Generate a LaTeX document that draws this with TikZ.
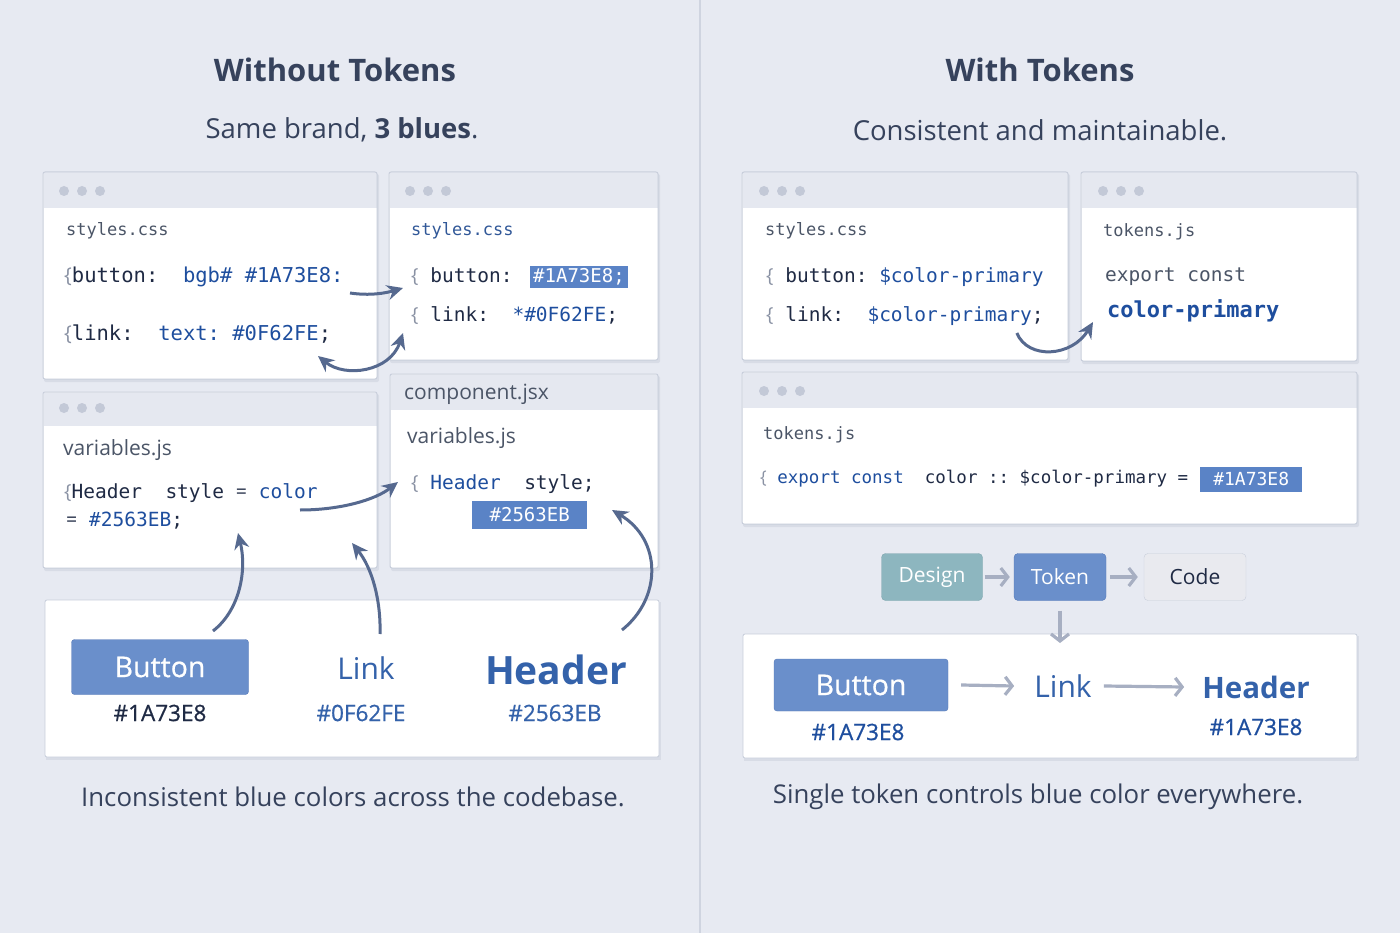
\documentclass[tikz,border=0pt]{standalone}
\usepackage{fontspec}
\setmainfont{Open Sans}
\setmonofont{DejaVu Sans Mono}
\newfontfamily\medsans[FakeBold=0.7]{Open Sans}
\usetikzlibrary{arrows.meta}

\definecolor{bgc}{HTML}{E7EAF2}
\definecolor{divc}{HTML}{CFD4E0}
\definecolor{winline}{HTML}{C8CEDB}
\definecolor{winhead}{HTML}{E5E8F0}
\definecolor{dotc}{HTML}{C3C9D7}
\definecolor{shadowc}{HTML}{D8DCE6}
\definecolor{txtdark}{HTML}{36425C}
\definecolor{txtgray}{HTML}{4B5567}
\definecolor{codedark}{HTML}{1F2A44}
\definecolor{codeblue}{HTML}{1E4E9E}
\definecolor{linkblue}{HTML}{3462AA}
\definecolor{bracec}{HTML}{8A92A4}
\definecolor{hlfill}{HTML}{5A83C6}
\definecolor{btnfill}{HTML}{6A8FCB}
\definecolor{btnline}{HTML}{5679B8}
\definecolor{arrdark}{HTML}{56698F}
\definecolor{arrgray}{HTML}{A7AFC2}
\definecolor{tealc}{HTML}{8DB6BF}
\definecolor{tealline}{HTML}{7FA6AF}
\definecolor{codebox}{HTML}{E9EAEF}

% window frame: x1 y1 x2 y2 header-bottom
\newcommand{\codewin}[5]{%
  \fill[shadowc,rounded corners=2pt] (#1+1,#2+2) rectangle (#3+2,#4+3);
  \fill[white,rounded corners=2pt] (#1,#2) rectangle (#3,#4);
  \fill[winhead] (#1+0.5,#2+0.5) rectangle (#3-0.5,#5);
  \draw[winline,line width=1pt,rounded corners=2pt] (#1,#2) rectangle (#3,#4);
}
% three dots in a header
\newcommand{\windots}[2]{%
  \foreach \k in {0,1,2} \fill[dotc] (#1+18*\k,#2) circle (5pt);
}

\begin{document}
\begin{tikzpicture}[x=1pt,y=-1pt,
  ttl/.style={inner sep=0pt,text=txtdark,font=\bfseries\fontsize{31}{36}\selectfont},
  sub/.style={inner sep=0pt,text=txtdark,font=\fontsize{27.5}{32}\selectfont},
  capline/.style={inner sep=0pt,text=txtdark,font=\fontsize{25.8}{30}\selectfont},
  fname/.style={anchor=west,inner sep=0pt,text=txtgray,font=\ttfamily\fontsize{17}{20}\selectfont},
  fsans/.style={anchor=west,inner sep=0pt,text=txtgray,font=\fontsize{21}{24}\selectfont},
  code/.style={anchor=west,inner sep=0pt,text=codedark,font=\ttfamily\fontsize{19.5}{23}\selectfont},
  hl/.style={anchor=west,fill=hlfill,text=white,inner sep=3pt,font=\ttfamily\fontsize{19}{22}\selectfont},
  btn/.style={fill=btnfill,draw=btnline,rounded corners=3pt,text=white,font=\medsans\fontsize{28.5}{32}\selectfont},
  hexl/.style={inner sep=0pt,font=\medsans\fontsize{22.5}{26}\selectfont},
  flow/.style={rounded corners=4pt,minimum height=47pt,inner sep=0pt,font=\fontsize{21}{24}\selectfont,text=white},
  darr/.style={draw=arrdark,line width=3pt,-{Stealth[length=16pt,width=15pt]}},
  garr/.style={draw=arrgray,line width=3.2pt,-{Straight Barb[length=7pt,width=18pt]}}]
  \useasboundingbox (0,0) rectangle (1400,933);
  \fill[bgc] (0,0) rectangle (1400,933);
  \draw[divc,line width=1.2pt] (700,0) -- (700,933);

  % titles
  \node[ttl] (tL) at (335,70) {Without Tokens};
  \node[sub] (sL) at (342,130) {Same brand, \textbf{3 blues}.};
  \node[ttl] (tR) at (1040,70) {With Tokens};
  \node[sub] (sR) at (1040,130) {Consistent and maintainable.};

  % ---- left side windows
  \codewin{43}{172}{377}{379}{208}
  \windots{64}{191}
  \node[fname] (fA) at (66,231) {styles.css};
  \node[code,font=\ttfamily\fontsize{20.5}{24}\selectfont] (cA1) at (64,277) {{\rmfamily\color{bracec}\{}button:\ \ {\color{codeblue}bgb\# \#1A73E8:}};
  \node[code,font=\ttfamily\fontsize{20.5}{24}\selectfont] (cA2) at (64,334) {{\rmfamily\color{bracec}\{}link:\ \ {\color{codeblue}text:\ \#0F62FE};};

  \codewin{389}{172}{658}{360}{208}
  \windots{410}{191}
  \node[fname,text=codeblue!80!gray] (fB) at (411,231) {styles.css};
  \node[code] (cB1) at (411,277) {{\rmfamily\color{bracec}\{} button:};
  \node[hl] (hlB) at (530,277) {\#1A73E8;};
  \node[code] (cB2) at (411,316) {{\rmfamily\color{bracec}\{} link:\ \ {\color{codeblue}*\#0F62FE};};

  \codewin{43}{392}{377}{568}{426}
  \windots{64}{408}
  \node[fsans] (fC) at (63,450) {variables.js};
  \node[code] (cC1) at (64,493) {{\rmfamily\color{bracec}\{}Header\ \ style {\rmfamily =} {\color{codeblue}color}};
  \node[code] (cC2) at (66,521) {{\rmfamily =} {\color{codeblue}\#2563EB};};

  \codewin{390}{374}{658}{568}{410}
  \node[fsans] (hD) at (404,394) {component.jsx};
  \node[fsans] (fD) at (407,438) {variables.js};
  \node[code] (cD1) at (411,484) {{\rmfamily\color{bracec}\{} {\color{codeblue}Header}\ \ style;};
  \node[hl,minimum width=115pt,minimum height=28pt,align=left] (hlD) at (472,515) {\#2563EB};

  % left result panel
  \fill[shadowc] (46,602) rectangle (661,760);
  \fill[white,draw=winline,line width=0.8pt,rounded corners=2pt] (45,600) rectangle (659,757);
  \node[btn,minimum width=177pt,minimum height=55pt] (btnL) at (160,667) {Button};
  \node[hexl,text=codedark] (hxL1) at (160,713) {\#1A73E8};
  \node[inner sep=0pt,text=linkblue,font=\fontsize{30}{34}\selectfont] (lnkL) at (366,668) {Link};
  \node[hexl,text=linkblue] (hxL2) at (361,713) {\#0F62FE};
  \node[inner sep=0pt,text=linkblue,font=\bfseries\fontsize{39}{44}\selectfont] (hdrL) at (556,670) {Header};
  \node[hexl,text=linkblue] (hxL3) at (555,713) {\#2563EB};
  \node[capline] (capL) at (353,797) {Inconsistent blue colors across the codebase.};

  % left connectors
  \coordinate (a1) at (350,293);
  \coordinate (a2) at (318,356);
  \coordinate (a3) at (300,510);
  \coordinate (bt) at (213,631);
  \coordinate (lt) at (380,634);
  \coordinate (ht) at (622,630);
  \draw[darr] (a1) .. controls (370,296) and (386,293) .. ([xshift=-8pt,yshift=-11pt]cB1.west);
  \draw[darr,{Stealth[length=16pt,width=15pt]}-{Stealth[length=16pt,width=15pt]}] (a2) .. controls (345,378) and (390,372) .. ([xshift=-8pt,yshift=-17pt]cB2.west);
  \draw[darr] (a3) .. controls (340,510) and (375,500) .. ([xshift=-13pt,yshift=2pt]cD1.west);
  \draw[darr] (bt) .. controls (240,610) and (247,570) .. (238,533);
  \draw[darr] (lt) .. controls (381,600) and (372,568) .. (352,543);
  \draw[darr] (ht) .. controls (662,598) and (662,540) .. (612,510);

  % ---- right side windows
  \codewin{742}{172}{1068}{360}{208}
  \windots{764}{191}
  \node[fname] (fE) at (765,231) {styles.css};
  \node[code] (cE1) at (766,277) {{\rmfamily\color{bracec}\{} button: {\color{codeblue}\$color-primary}};
  \node[code] (cE2) at (766,316) {{\rmfamily\color{bracec}\{} link:\ \ {\color{codeblue}\$color-primary};};

  \codewin{1081}{172}{1357}{361}{208}
  \windots{1103}{191}
  \node[fname] (fF) at (1103,232) {tokens.js};
  \node[code,text=txtgray] (cF1) at (1105,277) {export const};
  \node[code,text=codeblue,font=\ttfamily\bfseries\fontsize{22}{26}\selectfont] (cF2) at (1107,311) {color-primary};
  \draw[darr] ([xshift=-27pt,yshift=-17pt]cE2.east) .. controls (1028,360) and (1072,357) .. ([xshift=-14pt,yshift=-11pt]cF2.west);

  \codewin{742}{372}{1357}{524}{408}
  \windots{764}{391}
  \node[fname] (fG) at (763,435) {tokens.js};
  \node[code,font=\ttfamily\fontsize{17.5}{21}\selectfont] (cG1) at (760,479) {{\rmfamily\color{bracec}\{} {\color{codeblue}export const}\ \ color :: \$color-primary =};
  \node[hl,minimum width=102pt,minimum height=25pt,font=\ttfamily\fontsize{18}{21}\selectfont] (hlG) at (1200,479) {\#1A73E8};

  % flow
  \node[flow,fill=tealc,draw=tealline,minimum width=101pt] (dsg) at (932,577) {Design};
  \node[flow,fill=btnfill,draw=btnline,minimum width=92pt] (tok) at (1060,577) {Token};
  \node[flow,fill=codebox,draw=winline,text=codedark,minimum width=102pt] (cod) at (1195,577) {Code};
  \draw[garr] ([xshift=2pt]dsg.east) -- ([xshift=-4pt]tok.west);
  \draw[garr] ([xshift=4pt]tok.east) -- ([xshift=-6pt]cod.west);

  % right result panel
  \fill[shadowc] (744,636) rectangle (1359,761);
  \fill[white,draw=winline,line width=0.8pt,rounded corners=2pt] (743,634) rectangle (1357,758);
  \draw[garr] ([yshift=-10pt]tok.south) -- (1060,643);
  \node[btn,minimum width=174pt,minimum height=52pt] (btnR) at (861,685) {Button};
  \node[hexl,text=codeblue] (hxR1) at (858,732) {\#1A73E8};
  \node[inner sep=0pt,text=linkblue,font=\fontsize{30}{34}\selectfont] (lnkR) at (1063,686) {Link};
  \node[inner sep=0pt,text=linkblue,font=\bfseries\fontsize{29.5}{34}\selectfont] (hdrR) at (1256,687) {Header};
  \node[hexl,text=codeblue] (hxR2) at (1256,727) {\#1A73E8};
  \draw[garr] ([xshift=13pt]btnR.east) -- ([xshift=-20pt]lnkR.west);
  \draw[garr] ([xshift=12pt]lnkR.east) -- ([xshift=-18pt]hdrR.west);
  \node[capline] (capR) at (1038,797) {Single token controls blue color everywhere.};
\end{tikzpicture}
\end{document}
